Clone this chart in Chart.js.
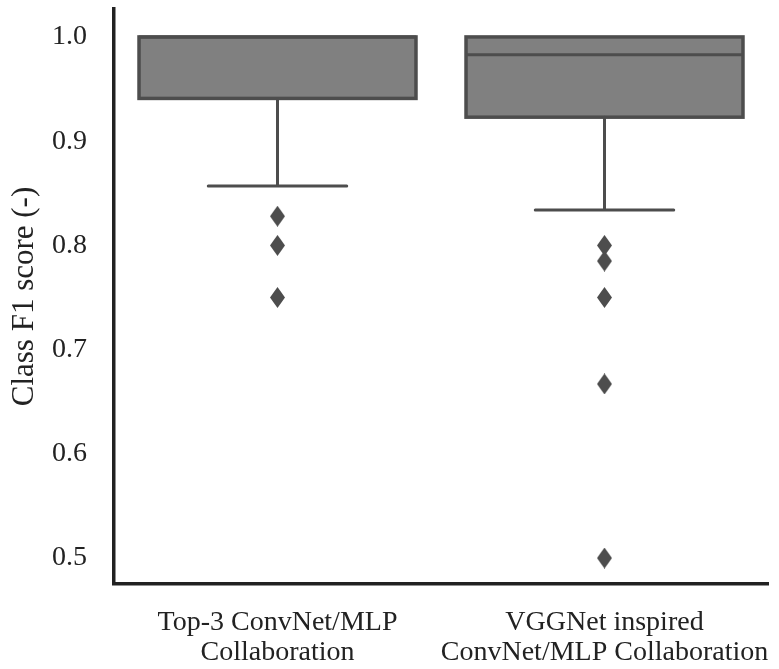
<!DOCTYPE html>
<html>
<head>
<meta charset="utf-8">
<script src="https://cdn.jsdelivr.net/npm/chart.js@4.4.0/dist/chart.umd.min.js"></script>
<style>
  body { margin: 0; background: #fff; }
  #wrap { width: 779px; height: 669px; }
</style>
</head>
<body>
<div id="wrap"><canvas id="boxChart"></canvas></div>
<script>
const categories = [["Top-3 ConvNet/MLP", "Collaboration"], ["VGGNet inspired", "ConvNet/MLP Collaboration"]];
const q1 = [0.941, 0.923];
const q3 = [1.0, 1.0];
const medians = [1.0, 0.983];
const whiskerLow = [0.857, 0.834];
const whiskerHigh = [1.0, 1.0];
const outliersTop3 = [0.828, 0.800, 0.750];
const outliersVgg = [0.800, 0.785, 0.750, 0.667, 0.500];
const yTicks = [0.5, 0.6, 0.7, 0.8, 0.9, 1.0];

const edgeColor = "#4d4d4d";
const fontFamily = "'Liberation Serif', 'DejaVu Serif', serif";

// thin diamond marker like matplotlib's "d"
function makeDiamond() {
  const c = document.createElement("canvas");
  c.width = 15; c.height = 21;
  const g = c.getContext("2d");
  g.fillStyle = edgeColor;
  g.beginPath();
  g.moveTo(7.5, 0);
  g.lineTo(15, 10.5);
  g.lineTo(7.5, 21);
  g.lineTo(0, 10.5);
  g.closePath();
  g.fill();
  return c;
}
const diamond = makeDiamond();

// one dataset per outlier rank, so every point sits on its own category
const outlierSets = [];
const nOut = Math.max(outliersTop3.length, outliersVgg.length);
for (let k = 0; k < nOut; k++) {
  outlierSets.push({
    type: "line",
    data: [outliersTop3[k] ?? null, outliersVgg[k] ?? null],
    showLine: false,
    pointStyle: diamond,
    pointRadius: 8
  });
}

// box outline, whiskers, caps and medians
const boxExtras = {
  id: "boxExtras",
  afterDatasetsDraw(chart) {
    const ctx = chart.ctx;
    const y = chart.scales.y;
    const bars = chart.getDatasetMeta(0).data;
    ctx.save();
    ctx.strokeStyle = edgeColor;
    bars.forEach((bar, i) => {
      const cx = bar.x;
      const half = bar.width / 2;
      const capHalf = half / 2;
      const yLow = y.getPixelForValue(whiskerLow[i]);
      const yQ1 = y.getPixelForValue(q1[i]);
      const yHigh = y.getPixelForValue(whiskerHigh[i]);
      const yQ3 = y.getPixelForValue(q3[i]);
      ctx.lineWidth = 3;
      ctx.lineCap = "round";
      ctx.beginPath();
      ctx.moveTo(cx, yQ1); ctx.lineTo(cx, yLow);
      ctx.moveTo(cx - capHalf, yLow); ctx.lineTo(cx + capHalf, yLow);
      if (yHigh < yQ3) {
        ctx.moveTo(cx, yQ3); ctx.lineTo(cx, yHigh);
        ctx.moveTo(cx - capHalf, yHigh); ctx.lineTo(cx + capHalf, yHigh);
      }
      ctx.stroke();
      ctx.lineCap = "butt";
      ctx.lineWidth = 3.5;
      ctx.strokeRect(cx - half, yQ3, half * 2, yQ1 - yQ3);
      ctx.lineWidth = 3;
      const ym = y.getPixelForValue(medians[i]);
      ctx.beginPath();
      ctx.moveTo(cx - half, ym); ctx.lineTo(cx + half, ym);
      ctx.stroke();
    });
    ctx.restore();
  }
};

new Chart(document.getElementById("boxChart"), {
  type: "bar",
  data: {
    labels: categories,
    datasets: [
      {
        data: q1.map((v, i) => [v, q3[i]]),
        backgroundColor: "#808080",
        borderWidth: 0,
        categoryPercentage: 1,
        barPercentage: 0.847
      },
      ...outlierSets
    ]
  },
  options: {
    responsive: true,
    maintainAspectRatio: false,
    animation: false,
    layout: { padding: { top: 7, right: 11, left: 0, bottom: 0 } },
    plugins: { legend: { display: false }, tooltip: { enabled: false } },
    scales: {
      x: {
        grid: { display: false, drawTicks: false },
        border: { display: true, color: "#222", width: 3.5 },
        afterFit: axis => { axis.height = 85; axis.paddingLeft = 0; axis.paddingRight = 0; },
        ticks: {
          color: "#222",
          padding: 24,
          autoSkip: false,
          maxRotation: 0,
          font: { family: fontFamily, size: 28, lineHeight: 1.07 }
        }
      },
      y: {
        min: 0.4751,
        max: 1.0268,
        afterBuildTicks: axis => { axis.ticks = yTicks.map(v => ({ value: v })); },
        afterFit: axis => { axis.width = 114; axis.paddingTop = 0; axis.paddingBottom = 0; },
        grid: { display: false, drawTicks: false },
        border: { display: true, color: "#222", width: 3.5 },
        ticks: {
          color: "#222",
          padding: 27,
          font: { family: fontFamily, size: 28 },
          callback: v => v.toFixed(1)
        },
        title: {
          display: true,
          text: "Class F1 score (-)",
          color: "#222",
          padding: { top: 6, bottom: 0 },
          font: { family: fontFamily, size: 31 }
        }
      }
    }
  },
  plugins: [boxExtras]
});
</script>
</body>
</html>
